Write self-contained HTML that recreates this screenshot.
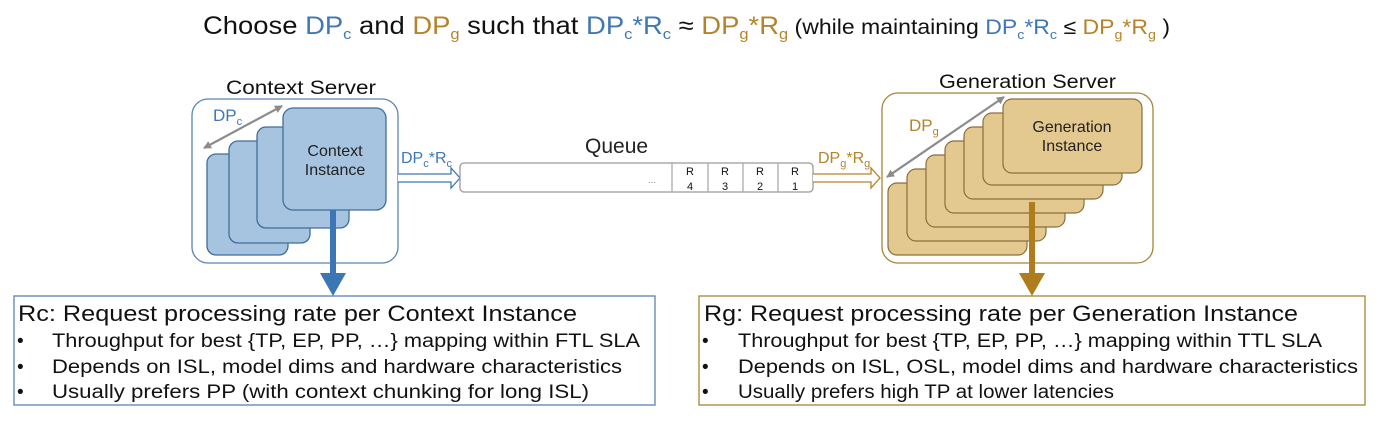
<!DOCTYPE html>
<html><head><meta charset="utf-8"><style>
html,body{margin:0;padding:0;background:#fff;}
svg{display:block;font-family:"Liberation Sans","DejaVu Sans",sans-serif;}
</style></head><body>
<svg width="1380" height="421" viewBox="0 0 1380 421" xmlns="http://www.w3.org/2000/svg">
<defs>
<marker id="ga" markerWidth="8" markerHeight="8" refX="7" refY="4" orient="auto" markerUnits="userSpaceOnUse"><path d="M0,0 L8,4 L0,8 z" fill="#8c8c8c"/></marker>
<marker id="gb" markerWidth="8" markerHeight="8" refX="1" refY="4" orient="auto" markerUnits="userSpaceOnUse"><path d="M8,0 L0,4 L8,8 z" fill="#8c8c8c"/></marker>
</defs>

<!-- Title -->
<text x="203" y="34" font-size="25" fill="#111" textLength="967" lengthAdjust="spacingAndGlyphs">Choose <tspan fill="#3f78b5">DP</tspan><tspan fill="#3f78b5" font-size="15" dy="5">c</tspan><tspan dy="-5"> and </tspan><tspan fill="#b5842a">DP</tspan><tspan fill="#b5842a" font-size="15" dy="5">g</tspan><tspan dy="-5"> such that </tspan><tspan fill="#3f78b5">DP</tspan><tspan fill="#3f78b5" font-size="15" dy="5">c</tspan><tspan fill="#3f78b5" dy="-5">*R</tspan><tspan fill="#3f78b5" font-size="15" dy="5">c</tspan><tspan dy="-5">  ≈ </tspan><tspan fill="#b5842a">DP</tspan><tspan fill="#b5842a" font-size="15" dy="5">g</tspan><tspan fill="#b5842a" dy="-5">*R</tspan><tspan fill="#b5842a" font-size="15" dy="5">g</tspan><tspan dy="-5" font-size="21">  (while maintaining </tspan><tspan fill="#3f78b5" font-size="21">DP</tspan><tspan fill="#3f78b5" font-size="13" dy="5">c</tspan><tspan fill="#3f78b5" font-size="21" dy="-5">*R</tspan><tspan fill="#3f78b5" font-size="13" dy="5">c</tspan><tspan dy="-5" font-size="21"> ≤ </tspan><tspan fill="#b5842a" font-size="21">DP</tspan><tspan fill="#b5842a" font-size="13" dy="5">g</tspan><tspan fill="#b5842a" font-size="21" dy="-5">*R</tspan><tspan fill="#b5842a" font-size="13" dy="5">g</tspan><tspan dy="-5" font-size="21"> )</tspan></text>

<!-- Context server -->
<text x="226" y="94" font-size="19" fill="#111" textLength="150" lengthAdjust="spacingAndGlyphs">Context Server</text>
<rect x="192" y="99" width="206" height="164" rx="16" fill="#fff" stroke="#5a84b3" stroke-width="1.3"/>
<g fill="#a6c3df" stroke="#3f6e9c" stroke-width="1.3">
<rect x="207" y="154" width="81" height="101" rx="9"/>
<rect x="229" y="141" width="81" height="102" rx="9"/>
<rect x="257" y="127" width="92" height="101" rx="9"/>
<rect x="283" y="108" width="103" height="102" rx="10"/>
</g>
<text x="335" y="156" font-size="16" fill="#222" text-anchor="middle">Context</text>
<text x="335" y="175" font-size="16" fill="#222" text-anchor="middle">Instance</text>
<line x1="204" y1="148" x2="282" y2="106" stroke="#8c8c8c" stroke-width="2.2" marker-start="url(#gb)" marker-end="url(#ga)"/>
<text x="213" y="121" font-size="17" fill="#3f78b5">DP<tspan font-size="11" dy="4">c</tspan></text>
<rect x="330" y="210" width="6" height="64" fill="#3d76b4"/>
<path d="M320,273 L346,273 L333,296 z" fill="#3d76b4"/>

<!-- blue hollow arrow -->
<path d="M398,174 L451,174 L451,168 L460,178 L451,188 L451,182 L398,182" fill="#fff" stroke="#3f78b5" stroke-width="1.3"/>
<text x="401" y="163" font-size="16" fill="#3f78b5">DP<tspan font-size="11" dy="4">c</tspan><tspan dy="-4">*R</tspan><tspan font-size="11" dy="4">c</tspan></text>

<!-- Queue -->
<text x="585" y="153" font-size="21" fill="#222">Queue</text>
<rect x="460" y="163" width="353" height="29" rx="4" fill="#fff" stroke="#9a9a9a" stroke-width="1.3"/>
<g stroke="#aaa" stroke-width="1.3"><line x1="672" y1="163" x2="672" y2="192"/><line x1="708" y1="163" x2="708" y2="192"/><line x1="743" y1="163" x2="743" y2="192"/><line x1="778" y1="163" x2="778" y2="192"/></g>
<text x="652" y="183" font-size="10" fill="#888" text-anchor="middle">...</text>
<g font-size="11" fill="#111" text-anchor="middle">
<text x="690" y="175">R</text><text x="690" y="190">4</text>
<text x="725" y="175">R</text><text x="725" y="190">3</text>
<text x="760" y="175">R</text><text x="760" y="190">2</text>
<text x="795" y="175">R</text><text x="795" y="190">1</text>
</g>

<!-- gold hollow arrow -->
<path d="M813,174 L871,174 L871,168 L880,178 L871,188 L871,182 L813,182" fill="#fff" stroke="#b5842a" stroke-width="1.3"/>
<text x="818" y="163" font-size="16" fill="#b5842a">DP<tspan font-size="11" dy="4">g</tspan><tspan dy="-4">*R</tspan><tspan font-size="11" dy="4">g</tspan></text>

<!-- Generation server -->
<text x="939" y="88" font-size="19" fill="#111" textLength="177" lengthAdjust="spacingAndGlyphs">Generation Server</text>
<rect x="882" y="93" width="271" height="170" rx="16" fill="#fff" stroke="#a88437" stroke-width="1.3"/>
<g fill="#e3c98f" stroke="#8a6e3a" stroke-width="1.2">
<rect x="888" y="183" width="139" height="72" rx="9"/>
<rect x="907" y="169" width="139" height="72" rx="9"/>
<rect x="926" y="155" width="139" height="72" rx="9"/>
<rect x="945" y="141" width="139" height="72" rx="9"/>
<rect x="964" y="127" width="139" height="72" rx="9"/>
<rect x="983" y="113" width="139" height="72" rx="9"/>
<rect x="1003" y="99" width="139" height="74" rx="9"/>
</g>
<text x="1072" y="132" font-size="16" fill="#222" text-anchor="middle">Generation</text>
<text x="1072" y="151" font-size="16" fill="#222" text-anchor="middle">Instance</text>
<line x1="887" y1="177" x2="1004" y2="97" stroke="#8c8c8c" stroke-width="2.2" marker-start="url(#gb)" marker-end="url(#ga)"/>
<text x="909" y="131" font-size="17" fill="#b5842a">DP<tspan font-size="11" dy="4">g</tspan></text>
<rect x="1029" y="202" width="6" height="72" fill="#b07d1e"/>
<path d="M1019,273 L1045,273 L1032,296 z" fill="#b07d1e"/>

<!-- Bottom left box -->
<rect x="14" y="296" width="641" height="109" fill="#fff" stroke="#5a84b3" stroke-width="1.3"/>
<text x="18" y="321" font-size="22" fill="#111" textLength="559" lengthAdjust="spacingAndGlyphs">Rc: Request processing rate per Context Instance</text>
<g font-size="19" fill="#111">
<text x="17" y="347">•</text><text x="52" y="347" textLength="588" lengthAdjust="spacingAndGlyphs">Throughput for best {TP, EP, PP, …} mapping within FTL  SLA</text>
<text x="17" y="373">•</text><text x="52" y="373" textLength="570" lengthAdjust="spacingAndGlyphs">Depends on ISL, model dims and hardware characteristics</text>
<text x="17" y="398">•</text><text x="52" y="398" textLength="537" lengthAdjust="spacingAndGlyphs">Usually prefers PP (with context chunking for long ISL)</text>
</g>

<!-- Bottom right box -->
<rect x="699" y="296" width="666" height="109" fill="#fff" stroke="#a88437" stroke-width="1.3"/>
<text x="704" y="321" font-size="22" fill="#111" textLength="594" lengthAdjust="spacingAndGlyphs">Rg: Request processing rate per Generation Instance</text>
<g font-size="19" fill="#111">
<text x="702" y="347">•</text><text x="738" y="347" textLength="584" lengthAdjust="spacingAndGlyphs">Throughput for best {TP, EP, PP, …} mapping within TTL SLA</text>
<text x="702" y="373">•</text><text x="738" y="373" textLength="620" lengthAdjust="spacingAndGlyphs">Depends on ISL, OSL, model dims and hardware characteristics</text>
<text x="702" y="398">•</text><text x="738" y="398" textLength="376" lengthAdjust="spacingAndGlyphs">Usually prefers high TP at lower latencies</text>
</g>
</svg>
</body></html>
